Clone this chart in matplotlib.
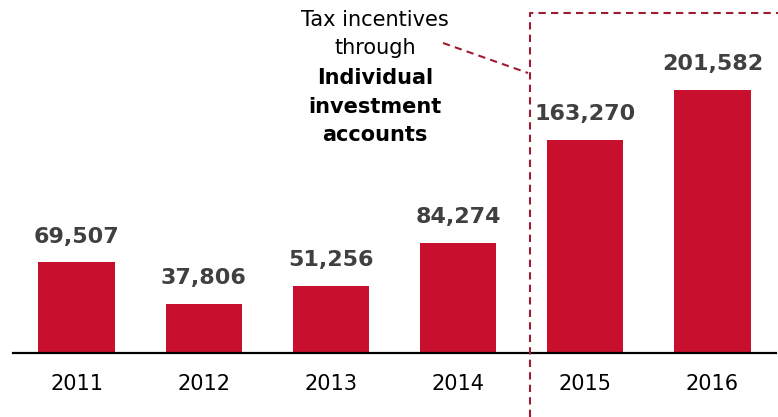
import matplotlib.pyplot as plt
from matplotlib.lines import Line2D

# Data
years = ['2011', '2012', '2013', '2014', '2015', '2016']
values = [69507, 37806, 51256, 84274, 163270, 201582]

bar_color = '#C8102E'
dash_color = '#9E1B32'
W, H = 778, 417

fig = plt.figure(figsize=(W / 100, H / 100), dpi=100)
ax = fig.add_axes([13 / W, 64 / H, (776 - 13) / W, (H - 64) / H])

x = list(range(len(years)))
ax.bar(x, values, width=0.6, color=bar_color)
for xi, v in zip(x, values):
    ax.text(xi, v + 12000, f'{v:,}', ha='center', va='bottom',
            fontsize=16, fontweight='bold', color='#404040')

ax.set_xlim(-0.5, 5.5)
ax.set_ylim(0, 270500)
ax.set_xticks(x)
ax.set_xticklabels(years, fontsize=15)
ax.tick_params(axis='x', length=0, pad=15)
ax.set_yticks([])
for s in ['top', 'left', 'right']:
    ax.spines[s].set_visible(False)
ax.spines['bottom'].set_linewidth(1.6)
ax.spines['bottom'].set_color('black')


def px(xp, yp):
    return xp / W, 1 - yp / H


# dashed box around 2015-2016
dash = (0, (3.5, 2.5))
xs, ys = zip(px(530, H), px(530, 13), px(W, 13))
fig.add_artist(Line2D(xs, ys, color=dash_color, lw=1.5, linestyle=dash))
xs, ys = zip(px(443, 43), px(528, 73))
fig.add_artist(Line2D(xs, ys, color=dash_color, lw=1.5, linestyle=dash))

# annotation
lines = [('Tax incentives', 'normal', 20), ('through', 'normal', 48),
         ('Individual', 'bold', 78), ('investment', 'bold', 107),
         ('accounts', 'bold', 135)]
for txt, w, yp in lines:
    fx, fy = px(375, yp)
    fig.text(fx, fy, txt, ha='center', va='center', fontsize=15,
             fontweight=w, color='black')

fig.savefig('out.png', dpi=100)
